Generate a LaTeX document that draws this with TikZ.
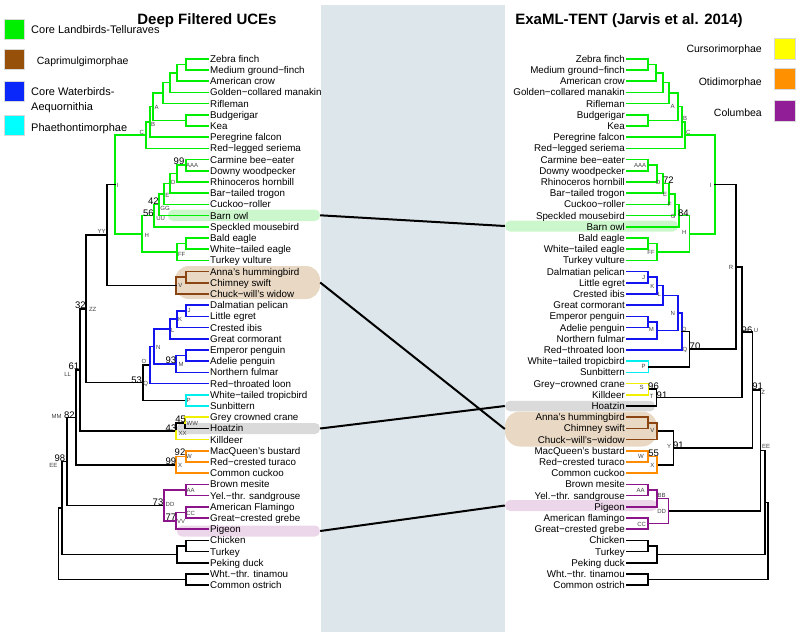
\documentclass[tikz,border=0pt]{standalone}
\usepackage{fontspec}
\setmainfont{Liberation Sans}
\definecolor{cGreen}{RGB}{0,238,0}
\definecolor{cBrown}{RGB}{139,69,19}
\definecolor{cBlue}{RGB}{20,20,240}
\definecolor{cCyan}{RGB}{0,238,238}
\definecolor{cYellow}{RGB}{240,240,0}
\definecolor{cOrange}{RGB}{255,140,0}
\definecolor{cPurple}{RGB}{139,20,139}
\definecolor{kGreen}{RGB}{0,238,0}
\definecolor{kBrown}{RGB}{150,80,10}
\definecolor{kBlue}{RGB}{10,40,250}
\definecolor{kCyan}{RGB}{0,255,255}
\definecolor{kYellow}{RGB}{255,255,0}
\definecolor{kOrange}{RGB}{255,145,0}
\definecolor{kPurple}{RGB}{145,30,150}
\definecolor{bOwl}{RGB}{204,247,204}
\definecolor{bHum}{RGB}{232,216,196}
\definecolor{bHoa}{RGB}{218,218,218}
\definecolor{bPig}{RGB}{236,214,234}
\definecolor{panelc}{RGB}{221,230,234}
\newcommand\rowy[1]{58.7+11.2*(#1)}
\begin{document}
\begin{tikzpicture}[x=1pt,y=-1pt,
  tree/.style={line width=1.6pt,line cap=rect},
  gC/.style={draw=cGreen},bC/.style={draw=cBlue},kC/.style={draw=black},
  brC/.style={draw=cBrown},cyC/.style={draw=cCyan},yC/.style={draw=cYellow},
  oC/.style={draw=cOrange},pC/.style={draw=cPurple},
  leafL/.style={anchor=west,inner xsep=2pt,inner ysep=0pt,text height=7.1pt,text depth=0pt,font=\fontsize{9.8}{12}\selectfont},
  leafR/.style={anchor=east,inner xsep=2pt,inner ysep=0pt,text height=7.1pt,text depth=0pt,font=\fontsize{9.8}{12}\selectfont},
  nl/.style={inner sep=0pt,text=black!75,font=\fontsize{6}{6}\selectfont},
  bs/.style={inner sep=0pt,font=\fontsize{9.5}{9.5}\selectfont},
  band/.style={rounded corners=5pt,inner sep=0pt},
  link/.style={line width=2pt,draw=black},
  lbox/.style={minimum width=20pt,minimum height=20pt,inner sep=0pt,draw=black!15},
  legtxt/.style={inner sep=0pt,font=\fontsize{10.5}{12}\selectfont},
  legtxtb/.style={inner sep=0pt,font=\fontsize{11}{13}\selectfont},
  ttl/.style={inner sep=0pt,font=\fontsize{15}{18}\selectfont\bfseries}]
\useasboundingbox (0,0) rectangle (800,632);
\fill[panelc] (321,5) rectangle (505,632);
% highlight bands
\node[band,fill=bOwl,minimum width=152pt,minimum height=11.5pt] (owlL) at (244,215.3) {};
\node[band,fill=bOwl,minimum width=173pt,minimum height=11pt] (owlR) at (591.5,226) {};
\node[band,fill=bHum,rounded corners=14pt,minimum width=145pt,minimum height=33pt] (humL) at (247.5,282.5) {};
\node[band,fill=bHum,rounded corners=15pt,minimum width=152pt,minimum height=35pt] (humR) at (581,429) {};
\node[band,fill=bHoa,minimum width=143pt,minimum height=11pt] (hoaL) at (248.5,428.5) {};
\node[band,fill=bHoa,minimum width=150pt,minimum height=10.5pt] (hoaR) at (580,406) {};
\node[band,fill=bPig,minimum width=143pt,minimum height=11pt] (pigL) at (248.5,531) {};
\node[band,fill=bPig,minimum width=152pt,minimum height=11pt] (pigR) at (581,505.5) {};
\draw[link] (owlL.east) -- (owlR.west);
\draw[link] (humL.east) -- (humR.west);
\draw[link] (hoaL.east) -- (hoaR.west);
\draw[link] (pigL.east) -- (pigR.west);
% titles
\node[ttl,anchor=base] (t1) at (207,24.2) {Deep Filtered UCEs};
\node[ttl,anchor=base] (t2) at (629,24.5) {ExaML-TENT (Jarvis et al. 2014)};
% legends
\node[lbox,fill=kGreen] (kg) at (14,29) {};
\node[lbox,fill=kBrown] (kb) at (14,59.3) {};
\node[lbox,fill=kBlue] (kbl) at (14,91) {};
\node[lbox,fill=kCyan] (kc) at (14,125) {};
\node[legtxtb,anchor=base west] (lg1) at (31,33.3) {Core Landbirds-Telluraves};
\node[legtxt,anchor=base west] (lg2) at (36.7,64.5) {Caprimulgimorphae};
\node[legtxtb,anchor=base west] (lg3) at (31,95.5) {Core Waterbirds-};
\node[legtxtb,anchor=base west] (lg4) at (31,110.2) {Aequornithia};
\node[legtxtb,anchor=base west] (lg5) at (31,131) {Phaethontimorphae};
\node[lbox,fill=kYellow,minimum width=21pt,minimum height=21pt] (ky) at (785,48.5) {};
\node[lbox,fill=kOrange,minimum width=21pt,minimum height=21pt] (ko) at (785,79) {};
\node[lbox,fill=kPurple,minimum width=21pt,minimum height=21pt] (kp) at (785,111) {};
\node[legtxt,anchor=base east] (lg6) at (762,52.5) {Cursorimorphae};
\node[legtxt,anchor=base east] (lg7) at (762,85) {Otidimorphae};
\node[legtxt,anchor=base east] (lg8) at (762,116) {Columbea};
% leaves
\foreach \i/\t in {0/Zebra finch,1/Medium ground−finch,2/American crow,3/Golden−collared manakin,4/Rifleman,5/Budgerigar,6/Kea,7/Peregrine falcon,8/Red−legged seriema,9/Carmine bee−eater,10/Downy woodpecker,11/Rhinoceros hornbill,12/Bar−tailed trogon,13/Cuckoo−roller,14/Barn owl,15/Speckled mousebird,16/Bald eagle,17/White−tailed eagle,18/Turkey vulture,19/Anna's hummingbird,20/Chimney swift,21/Chuck−will's widow,22/Dalmatian pelican,23/Little egret,24/Crested ibis,25/Great cormorant,26/Emperor penguin,27/Adelie penguin,28/Northern fulmar,29/Red−throated loon,30/White−tailed tropicbird,31/Sunbittern,32/Grey crowned crane,33/Hoatzin,34/Killdeer,35/MacQueen's bustard,36/Red−crested turaco,37/Common cuckoo,38/Brown mesite,39/Yel.−thr. sandgrouse,40/American Flamingo,41/Great−crested grebe,42/Pigeon,43/Chicken,44/Turkey,45/Peking duck,46/Wht.−thr. tinamou,47/Common ostrich}
  \node[leafL] (L\i) at (208,{\rowy{\i}}) {\t};
\foreach \i/\t in {0/Zebra finch,1/Medium ground−finch,2/American crow,3/Golden−collared manakin,4/Rifleman,5/Budgerigar,6/Kea,7/Peregrine falcon,8/Red−legged seriema,9/Carmine bee−eater,10/Downy woodpecker,11/Rhinoceros hornbill,12/Bar−tailed trogon,13/Cuckoo−roller,14/Speckled mousebird,15/Barn owl,16/Bald eagle,17/White−tailed eagle,18/Turkey vulture,19/Dalmatian pelican,20/Little egret,21/Crested ibis,22/Great cormorant,23/Emperor penguin,24/Adelie penguin,25/Northern fulmar,26/Red−throated loon,27/White−tailed tropicbird,28/Sunbittern,29/Grey−crowned crane,30/Killdeer,31/Hoatzin,32/Anna's hummingbird,33/Chimney swift,34/Chuck−will's−widow,35/MacQueen's bustard,36/Red−crested turaco,37/Common cuckoo,38/Brown mesite,39/Yel.−thr. sandgrouse,40/Pigeon,41/American flamingo,42/Great−crested grebe,43/Chicken,44/Turkey,45/Peking duck,46/Wht.−thr. tinamou,47/Common ostrich}
  \node[leafR] (R\i) at (627,{\rowy{\i}}) {\t};
% left internal nodes
\foreach \n/\x/\r in {lzm/186/0.5,lcr/177/1.25,lma/170/2.125,lri/163/3.0625,lpa/186/5.5,lA/153/4.28125,lB/150/5.640625,lC/145.7/6.8203125,
  lAAA/186/9.5,lD/177/10.25,lE/170/11.125,lGG/164/12.0625,lOW/159/13.03125,lUU/154/14.015625,lea/186/16.5,lFF/177/17.25,lH/142/15.6328125,lI/115/11.2265625,
  lhs/186/19.5,lV/176/20.25,lYY/107/15.73828125,
  lJ/186/22.5,lK/177/23.25,lL/170/24.125,lpe/186/26.5,lM/176/27.25,lN/154/25.6875,lO/150/27.34375,lP/186/30.5,lQ/142.7/28.921875,lZZ/86/22.330078,
  lWW/185/32.5,lXX/176/33.25,lLL/80/27.790039,lW/186/35.5,lX/176/36.25,lMM/76/32.02002,
  lAA/186/38.5,lCC/186/40.5,lVV/176/41.25,lDD/164/39.875,lEE/66.7/35.94751,lch/186/43.5,lga/177/44.25,lNe/61.7/40.098755,lpal/186/46.5,lroot/58.3/43.299377}
  \coordinate (\n) at (\x,{\rowy{\r}});
% right internal nodes
\foreach \n/\x/\r in {rzm/648/0.5,rcr/656/1.25,rma/663/2.125,rri/669/3.0625,rpa/648/5.5,rA/678/4.28125,rB/682/5.640625,rC/685/6.8203125,
  rAAA/648/9.5,rD/657/10.25,rE/663/11.125,rF/669/12.0625,rG/675/13.03125,rGB/679/14.015625,rea/648/16.5,rFF/657/17.25,rH/689.3/15.6328125,rI/714.7/11.2265625,
  rJ/648/19.5,rK/657/20.25,rL/663/21.125,rpe/648/23.5,rM/657/24.25,rN/678/22.6875,rO/682/24.34375,rP/648.3/27.5,rQ/689.3/25.921875,rR/736/18.57421875,
  rS/648.3/29.5,rT/656.3/30.25,rU/741.7/24.412109,rhs/648/32.5,rV/657/33.25,rW/648/35.5,rX/657/36.25,rY/673.3/34.75,rZ/752.3/29.5810545,
  rAA/648/38.5,rBB/657/39.25,rCC/648/41.5,rDD/668.3/40.375,rZD/760.3/34.97803,rch/648/43.5,rga/657/44.25,rEE/765/39.614014,rpal/648/46.5,rroot/768/43.057007}
  \coordinate (\n) at (\x,{\rowy{\r}});
% left edges
\foreach \p/\c/\s in {lzm/L0.west/gC,lzm/L1.west/gC,lcr/lzm/gC,lcr/L2.west/gC,lma/lcr/gC,lma/L3.west/gC,lri/lma/gC,lri/L4.west/gC,lpa/L5.west/gC,lpa/L6.west/gC,
  lA/lri/gC,lA/lpa/gC,lB/lA/gC,lB/L7.west/gC,lC/lB/gC,lC/L8.west/gC,lAAA/L9.west/gC,lAAA/L10.west/gC,lD/lAAA/gC,lD/L11.west/gC,lE/lD/gC,lE/L12.west/gC,
  lGG/lE/gC,lGG/L13.west/gC,lOW/lGG/gC,lOW/L14.west/gC,lUU/lOW/gC,lUU/L15.west/gC,lea/L16.west/gC,lea/L17.west/gC,lFF/lea/gC,lFF/L18.west/gC,
  lH/lUU/gC,lH/lFF/gC,lI/lC/gC,lI/lH/gC,
  lhs/L19.west/brC,lhs/L20.west/brC,lV/lhs/brC,lV/L21.west/brC,
  lYY/lI/kC,lYY/lV/kC,lZZ/lYY/kC,lZZ/lQ/kC,lQ/lO/kC,lQ/lP/kC,lLL/lZZ/kC,lLL/lXX/kC,lXX/lWW/kC,lWW/L33.west/kC,lMM/lLL/kC,lMM/lX/kC,
  lEE/lMM/kC,lEE/lDD/kC,lNe/lEE/kC,lNe/lga/kC,lga/lch/kC,lga/L45.west/kC,lch/L43.west/kC,lch/L44.west/kC,lroot/lNe/kC,lroot/lpal/kC,lpal/L46.west/kC,lpal/L47.west/kC,
  lJ/L22.west/bC,lJ/L23.west/bC,lK/lJ/bC,lK/L24.west/bC,lL/lK/bC,lL/L25.west/bC,lpe/L26.west/bC,lpe/L27.west/bC,lM/lpe/bC,lM/L28.west/bC,lN/lL/bC,lN/lM/bC,lO/lN/bC,lO/L29.west/bC,
  lP/L30.west/cyC,lP/L31.west/cyC,lWW/L32.west/yC,lXX/L34.west/yC,
  lW/L35.west/oC,lW/L36.west/oC,lX/lW/oC,lX/L37.west/oC,
  lAA/L38.west/pC,lAA/L39.west/pC,lCC/L40.west/pC,lCC/L41.west/pC,lVV/lCC/pC,lVV/L42.west/pC,lDD/lAA/pC,lDD/lVV/pC}
  \draw[tree,\s] (\p) |- (\c);
% right edges
\foreach \p/\c/\s in {rzm/R0.east/gC,rzm/R1.east/gC,rcr/rzm/gC,rcr/R2.east/gC,rma/rcr/gC,rma/R3.east/gC,rri/rma/gC,rri/R4.east/gC,rpa/R5.east/gC,rpa/R6.east/gC,
  rA/rri/gC,rA/rpa/gC,rB/rA/gC,rB/R7.east/gC,rC/rB/gC,rC/R8.east/gC,rAAA/R9.east/gC,rAAA/R10.east/gC,rD/rAAA/gC,rD/R11.east/gC,rE/rD/gC,rE/R12.east/gC,
  rF/rE/gC,rF/R13.east/gC,rG/rF/gC,rG/R14.east/gC,rGB/rG/gC,rGB/R15.east/gC,rea/R16.east/gC,rea/R17.east/gC,rFF/rea/gC,rFF/R18.east/gC,
  rH/rGB/gC,rH/rFF/gC,rI/rC/gC,rI/rH/gC,
  rJ/R19.east/bC,rJ/R20.east/bC,rK/rJ/bC,rK/R21.east/bC,rL/rK/bC,rL/R22.east/bC,rpe/R23.east/bC,rpe/R24.east/bC,rM/rpe/bC,rM/R25.east/bC,rN/rL/bC,rN/rM/bC,rO/rN/bC,rO/R26.east/bC,
  rP/R27.east/cyC,rP/R28.east/cyC,
  rQ/rO/kC,rQ/rP/kC,rR/rI/kC,rR/rQ/kC,rT/rS/kC,rT/R31.east/kC,rU/rR/kC,rU/rT/kC,rY/rV/kC,rY/rX/kC,rZ/rU/kC,rZ/rY/kC,rZD/rZ/kC,rZD/rDD/kC,
  rga/rch/kC,rga/R45.east/kC,rch/R43.east/kC,rch/R44.east/kC,rEE/rZD/kC,rEE/rga/kC,rpal/R46.east/kC,rpal/R47.east/kC,rroot/rEE/kC,rroot/rpal/kC,
  rS/R29.east/yC,rS/R30.east/yC,
  rhs/R32.east/brC,rhs/R33.east/brC,rV/rhs/brC,rV/R34.east/brC,
  rW/R35.east/oC,rW/R36.east/oC,rX/rW/oC,rX/R37.east/oC,
  rAA/R38.east/pC,rAA/R39.east/pC,rBB/rAA/pC,rBB/R40.east/pC,rCC/R41.east/pC,rCC/R42.east/pC,rDD/rBB/pC,rDD/rCC/pC}
  \draw[tree,\s] (\p) |- (\c);
% node labels
\foreach \t/\x/\y [count=\k] in {A/156.5/107,B/153/124.3,C/141.7/132.3,AAA/192/165.7,D/173.3/182.3,E/167.3/195,GG/165/208.3,UU/160.7/218.7,H/146.7/235.3,FF/181.7/254,I/117.7/185,YY/101.7/231,
  V/180.3/285.7,ZZ/92.7/309.3,J/189/310,K/180/319.3,L/172.7/330,N/158.3/347.3,M/181/364.3,O/144/361,Q/145.7/384,P/188.7/400,LL/67.7/374.3,WW/192.3/423,XX/182.7/433,
  MM/56.7/416.7,W/189/456,X/180/465.7,EE/53.3/465.7,AA/190.7/490.7,DD/170/504,CC/190.7/513.3,VV/181/521.7}
  \node[nl] (nlL\k) at (\x,\y) {\t};
\foreach \t/\x/\y [count=\k] in {A/672.7/106.7,B/685/118.3,C/688.3/132.3,AAA/640/165.7,D/658.3/182.3,E/665/194,F/670/204,G/673.3/216.7,H/684.3/232.7,FF/651/252.3,I/710.7/185,
  J/643.7/277.3,K/652.3/286.7,L/659.3/294,N/672.7/313.3,M/651.3/329.3,O/684.3/329,Q/685/350,P/643.7/366.7,R/731/267.3,S/641.7/387.7,T/651.7/396.7,U/756/330.7,Z/763.3/392.7,
  V/652.3/430.7,Y/669/446,W/641/456,X/652.3/465.7,EE/766/446.7,AA/640.7/490.7,BB/661.7/495.7,DD/661.7/511.7,CC/641.7/524}
  \node[nl] (nlR\k) at (\x,\y) {\t};
% bootstrap values
\foreach \t/\x/\y [count=\k] in {99/179/161.7,42/153.3/201,56/148.3/213.3,32/80.3/305.7,93/170.8/360,53/136.7/380,61/74/366.7,82/69.3/415,45/180.7/419.7,43/171/428.7,
  92/180/452.7,99/170.8/461.7,98/60/458.3,73/158/502.7,77/170.8/517.7}
  \node[bs] (bsL\k) at (\x,\y) {\t};
\foreach \t/\x/\y [count=\k] in {72/668.3/180,84/683.3/213.3,70/695/346.7,96/653.5/386,91/662/395,96/747/330,91/757.7/386.7,91/678.3/445,55/653.7/453.3}
  \node[bs] (bsR\k) at (\x,\y) {\t};
\end{tikzpicture}
\end{document}
